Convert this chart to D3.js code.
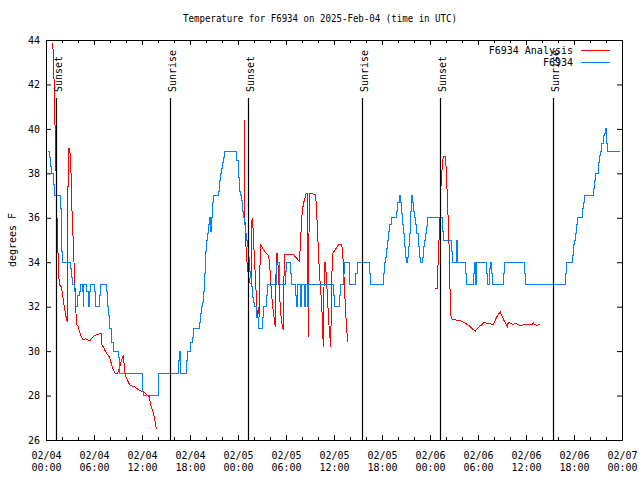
<!DOCTYPE html>
<html><head><meta charset="utf-8">
<script src="https://cdn.jsdelivr.net/npm/d3@7"></script>
<style>
body{margin:0;background:#fff}
svg{display:block}
</style>
</head><body>
<svg id="chart" width="640" height="480"></svg>
<script>
// ---------------- data ----------------
const titleText = "Temperature for F6934 on 2025-Feb-04 (time in UTC)";
const yLabelText = "degrees F";
const startUtc = Date.UTC(2025, 1, 4, 0, 0);      // 02/04 00:00 UTC
const spanHours = 72;
const xMajorHours = [0, 6, 12, 18, 24, 30, 36, 42, 48, 54, 60, 66, 72];
const xMinorHours = d3.range(0, 73, 2);
const yTickValues = [26, 28, 30, 32, 34, 36, 38, 40, 42, 44];
const seriesNames = ["F6934 Analysis", "F6934"];
const seriesColors = ["#ff0000", "#0080ff"];

// sunset / sunrise markers (hours after 02/04 00:00 UTC)
const sunEventHours = [1.29, 15.54, 25.29, 39.54, 49.29, 63.41];
const sunEventLabels = ["Sunset", "Sunrise", "Sunset", "Sunrise", "Sunset", "Sunrise"];

// station observations [hour, degF] (stepped)
const stationObs = [
[0.19,39.0],[0.38,38.7],[0.5,38.3],[0.63,38.0],[0.91,37.5],[1.04,37.0],[1.75,36.4],[1.88,35.2],[1.98,34.5],[2.04,34.0],
[3.06,33.7],[3.16,33.3],[3.29,33.0],[3.56,32.7],[3.69,32.0],[3.96,32.5],[4.13,32.7],[4.29,33.0],[4.54,32.7],[4.63,32.0],[4.71,33.0],
[5.04,32.7],[5.29,32.0],[5.38,32.7],[5.5,33.0],[6.04,32.7],[6.21,32.0],[6.66,32.5],[6.79,33.0],[7.54,32.7],[7.66,32.0],[7.79,31.6],[7.91,31.0],
[8.16,30.4],[8.41,30.0],[9.04,29.7],[9.19,29.0],[12.04,28.2],[12.16,28.0],[14.04,29.0],[16.54,29.6],[16.66,30.0],[16.79,29.0],
[17.54,29.6],[17.66,30.0],[18.06,30.4],[18.25,30.6],[18.41,31.0],[19.16,31.3],[19.29,31.7],[19.41,32.0],[19.54,32.2],[19.66,32.7],
[19.79,33.5],[19.91,34.5],[20.04,35.0],[20.16,35.3],[20.29,35.7],[20.44,36.0],[20.54,35.4],[20.63,36.0],[20.79,36.7],[20.91,37.0],
[21.54,37.2],[21.66,37.7],[21.79,38.0],[21.91,38.2],[22.04,38.5],[22.16,38.7],[22.29,39.0],[23.79,38.6],[24.0,37.8],[24.13,37.2],
[24.25,37.0],[24.38,36.8],[24.5,36.3],[24.63,36.0],[24.75,35.7],[24.88,35.3],[25.0,35.0],[25.13,34.7],[25.25,34.2],[25.38,33.6],
[25.5,33.3],[25.63,32.9],[25.75,32.4],[25.88,32.2],[26.0,32.0],[26.25,31.5],[26.5,31.0],[27.04,31.5],[27.16,32.0],[27.59,32.5],[27.71,33.0],
[28.75,34.0],[29.13,33.0],[29.88,33.6],[30.0,34.0],[30.5,33.5],[30.63,33.0],[31.13,32.5],[31.25,32.0],[31.38,33.0],
[31.75,32.0],[31.88,33.0],[32.25,32.0],[32.38,33.0],[32.63,32.0],[32.75,33.0],[35.88,32.5],[36.0,32.0],
[36.63,32.5],[36.75,33.0],[37.13,33.5],[37.25,34.0],[37.88,33.0],[38.63,33.5],[38.88,34.0],[40.46,33.5],[40.59,33.0],[42.16,33.5],[42.29,34.0],
[42.41,34.2],[42.54,34.6],[42.66,35.0],[42.79,35.4],[42.91,35.7],[43.16,36.0],[43.79,36.3],[43.91,36.7],[44.16,37.0],[44.29,36.7],
[44.41,36.2],[44.54,35.7],[44.66,35.3],[44.79,34.7],[44.91,34.2],[45.04,34.0],[45.16,34.2],[45.29,34.7],[45.41,35.3],[45.54,36.3],
[45.66,37.0],[45.79,36.7],[45.91,36.3],[46.04,36.0],[46.16,35.7],[46.29,35.3],[46.54,34.7],[46.66,34.2],[46.79,34.0],[47.04,34.2],
[47.16,34.7],[47.29,35.0],[47.41,35.3],[47.54,35.6],[47.66,36.0],[49.59,35.4],[49.71,35.0],[50.71,34.5],[50.84,34.0],[51.29,35.0],
[51.41,34.0],[52.46,33.5],[52.59,33.0],[53.41,33.5],[53.5,34.0],[53.66,33.0],[53.79,34.0],[55.0,33.5],[55.13,33.0],[55.38,33.7],
[55.5,34.0],[55.63,33.5],[55.75,33.0],[57.16,33.5],[57.29,34.0],[59.79,33.5],[59.91,33.0],[64.91,33.5],[65.04,34.0],[65.79,34.3],
[65.91,34.8],[66.04,35.0],[66.16,35.3],[66.29,35.7],[66.41,36.0],[67.04,36.4],[67.16,36.7],[67.29,37.0],[68.41,37.3],[68.54,37.7],
[68.66,38.0],[69.04,38.5],[69.16,38.8],[69.29,39.0],[69.41,39.35],[69.66,39.7],[69.79,39.8],[69.91,40.0],[70.04,39.35],[70.16,39.0],[71.75,39.0]
];

// analysis runs [hour, degF]
const analysisRun1 = [
[0.84,43.85],[0.96,42.95],[1.41,35.45],[1.54,34.0],[1.66,32.98],[1.88,32.9],[2.04,32.66],[2.16,32.3],[2.29,32.0],[2.41,31.7],
[2.54,31.5],[2.66,31.3],[2.7,35.0],[2.79,39.1],[2.96,39.1],[3.09,38.5],[3.25,36.3],[3.38,35.15],[3.5,34.0],[3.63,32.8],[3.75,31.7],
[3.84,31.2],[4.04,31.1],[4.16,30.9],[4.29,30.8],[4.41,30.65],[4.66,30.5],[4.91,30.55],[5.29,30.5],[5.54,30.5],[5.79,30.6],[6.04,30.7],
[6.41,30.75],[6.91,30.8],[6.93,30.3],[7.16,30.2],[7.41,30.0],[7.66,29.85],[7.91,29.75],[8.16,29.45],[8.41,29.15],[8.66,29.0],[8.91,29.0],
[9.16,29.2],[9.41,29.55],[9.66,29.8],[9.91,28.9],[10.04,28.8],[10.29,28.6],[10.54,28.45],[11.04,28.4],[11.41,28.3],[11.91,28.2],
[12.29,28.15],[12.66,28.0],[12.91,27.95],[13.04,27.65],[13.29,27.35],[13.54,27.05],[13.79,26.5]
];
const analysisRun2 = [
[24.79,40.4],[24.81,36.27],[24.91,35.6],[25.0,34.7],[25.13,34.0],[25.25,33.57],[25.5,33.05],[25.69,33.05],[25.75,35.9],[25.84,36.0],
[25.91,35.15],[26.0,34.55],[26.13,33.65],[26.25,32.75],[26.41,31.55],[26.54,32.0],[26.66,31.55],[26.79,34.8],[27.5,34.4],[27.84,34.3],
[27.91,34.0],[28.04,33.5],[28.16,32.75],[28.29,32.15],[28.41,31.8],[28.54,31.4],[28.66,31.1],[28.79,34.4],[28.91,34.4],[29.04,33.65],
[29.16,32.7],[29.29,32.0],[29.41,31.4],[29.66,30.95],[29.79,34.35],[30.91,34.35],[31.66,34.05],[31.79,34.7],[31.91,35.6],[32.04,36.35],
[32.29,36.8],[32.54,37.1],[32.66,37.1],[32.79,30.65],[32.91,37.1],[33.66,37.05],[33.79,36.65],[33.91,35.6],[34.04,34.65],[34.16,33.65],
[34.38,32.5],[34.54,31.55],[34.66,30.2],[34.79,34.0],[34.91,34.0],[35.04,33.35],[35.16,32.6],[35.29,31.7],[35.41,30.95],[35.59,30.2],
[35.71,33.2],[35.84,34.4],[36.21,34.6],[36.59,34.8],[36.96,34.8],[37.09,34.4],[37.25,33.35],[37.38,32.3],[37.5,31.5],[37.63,30.8],[37.75,30.4]
];
const analysisRun3 = [
[48.66,32.8],[48.91,32.8],[49.04,34.3],[49.29,36.35],[49.41,37.85],[49.54,38.3],[49.66,38.75],[49.91,38.75],[50.04,38.15],[50.16,36.95],
[50.29,35.75],[50.41,34.5],[50.48,33.25],[50.54,32.0],[50.66,31.45],[51.29,31.4],[51.91,31.35],[52.16,31.3],[52.66,31.2],[52.91,31.15],
[53.29,31.0],[53.66,30.9],[53.91,31.0],[54.16,31.1],[54.54,31.2],[54.79,31.3],[55.16,31.25],[55.91,31.2],[56.29,31.5],[56.54,31.65],
[56.79,31.75],[57.04,31.55],[57.29,31.35],[57.54,31.2],[57.66,31.1],[57.79,31.3],[58.04,31.25],[58.41,31.2],[58.66,31.25],[59.04,31.2],
[59.29,31.15],[59.54,31.15],[59.79,31.2],[60.29,31.2],[60.79,31.2],[60.91,31.28],[61.04,31.2],[61.41,31.15],[61.66,31.2],[61.79,31.15]
];

// ---------------- drawing ----------------
const FONT = "'DejaVu Sans Mono','Liberation Mono',monospace";
const margin = {left: 46, right: 18, top: 40, bottom: 40};
const W = 640, H = 480;
const svg = d3.select("#chart");
svg.append("rect").attr("width", W).attr("height", H).attr("fill", "#fff");

const hourDate = h => new Date(startUtc + h * 3600e3);
const x = d3.scaleUtc().domain([hourDate(0), hourDate(spanHours)]).range([margin.left, W - margin.right]);
const y = d3.scaleLinear().domain([26, 44]).range([H - margin.bottom, margin.top]);
const [x0, x1] = x.range(), [yb, yt] = y.range();

function styleAxis(g) {
  g.attr("font-family", FONT).attr("font-size", 10);
  g.select(".domain").remove();
  g.selectAll("line").attr("stroke", "#000");
  g.selectAll("text").attr("fill", "#000");
}

// minor x ticks
svg.append("g").attr("transform", `translate(0,${yb})`)
  .call(d3.axisBottom(x).tickValues(xMinorHours.map(hourDate)).tickSizeInner(-3).tickSizeOuter(0).tickFormat(() => ""))
  .call(styleAxis);
svg.append("g").attr("transform", `translate(0,${yt})`)
  .call(d3.axisTop(x).tickValues(xMinorHours.map(hourDate)).tickSizeInner(-3).tickSizeOuter(0).tickFormat(() => ""))
  .call(styleAxis);
// major x ticks
const fmtDay = d3.utcFormat("%m/%d"), fmtTime = d3.utcFormat("%H:%M");
const gx = svg.append("g").attr("transform", `translate(0,${yb})`)
  .call(d3.axisBottom(x).tickValues(xMajorHours.map(hourDate)).tickSizeInner(-5).tickSizeOuter(0).tickPadding(0))
  .call(styleAxis);
gx.selectAll(".tick text").each(function(d) {
  const t = d3.select(this).text(null).attr("dy", null).attr("y", null);
  t.append("tspan").attr("x", 0).attr("y", 19).text(fmtDay(d));
  t.append("tspan").attr("x", 0).attr("y", 31).text(fmtTime(d));
});
svg.append("g").attr("transform", `translate(0,${yt})`)
  .call(d3.axisTop(x).tickValues(xMajorHours.map(hourDate)).tickSizeInner(-5).tickSizeOuter(0).tickFormat(() => ""))
  .call(styleAxis);
// y ticks
svg.append("g").attr("transform", `translate(${x0},0)`)
  .call(d3.axisLeft(y).tickValues(yTickValues).tickSizeInner(-5).tickSizeOuter(0).tickPadding(6).tickFormat(d3.format("d")))
  .call(styleAxis);
svg.append("g").attr("transform", `translate(${x1},0)`)
  .call(d3.axisRight(y).tickValues(yTickValues).tickSizeInner(-5).tickSizeOuter(0).tickFormat(() => ""))
  .call(styleAxis);

// frame
svg.append("rect").attr("x", x0 + 0.5).attr("y", yt + 0.5)
  .attr("width", x1 - x0).attr("height", yb - yt)
  .attr("fill", "none").attr("stroke", "#000").attr("stroke-width", 1);

// series
const redLine = d3.line().x(d => x(hourDate(d[0]))).y(d => y(d[1]));
[analysisRun1, analysisRun2, analysisRun3].forEach(run => {
  svg.append("path").datum(run).attr("d", redLine)
    .attr("fill", "none").attr("stroke", seriesColors[0]).attr("stroke-width", 1)
    .attr("shape-rendering", "crispEdges");
});
const blueLine = d3.line().curve(d3.curveStepAfter).x(d => x(hourDate(d[0]))).y(d => y(d[1]));
svg.append("path").datum(stationObs).attr("d", blueLine)
  .attr("fill", "none").attr("stroke", seriesColors[1]).attr("stroke-width", 1)
  .attr("shape-rendering", "crispEdges");

// sun markers
const markerTop = yb - (yb - yt) * 0.855;
const sun = svg.append("g");
sunEventHours.forEach((h, i) => {
  const sx = Math.round(x(hourDate(h))) + 0.5;
  sun.append("line").attr("x1", sx).attr("x2", sx).attr("y1", markerTop).attr("y2", yb)
    .attr("stroke", "#000").attr("stroke-width", 1.2);
  sun.append("text").attr("transform", `translate(${sx + 5},${markerTop - 6}) rotate(-90)`)
    .attr("font-family", FONT).attr("font-size", 10).attr("fill", "#000")
    .attr("text-anchor", "start").text(sunEventLabels[i]);
});

// title & y label
svg.append("text").attr("x", W / 2).attr("y", 22).attr("text-anchor", "middle")
  .attr("font-family", FONT).attr("font-size", 10).attr("fill", "#000")
  .attr("textLength", 274).attr("lengthAdjust", "spacingAndGlyphs").text(titleText);
svg.append("text").attr("transform", `translate(16,${(yt + yb) / 2}) rotate(-90)`)
  .attr("text-anchor", "middle").attr("font-family", FONT).attr("font-size", 10)
  .attr("fill", "#000").text(yLabelText);

// legend
const legend = svg.append("g");
seriesNames.forEach((name, i) => {
  const ly = 49.5 + i * 12.5;
  legend.append("text").attr("x", 573).attr("y", ly + 4).attr("text-anchor", "end")
    .attr("font-family", FONT).attr("font-size", 10).attr("fill", "#000").text(name);
  legend.append("line").attr("x1", 581).attr("x2", 610).attr("y1", Math.round(ly) + 0.5).attr("y2", Math.round(ly) + 0.5)
    .attr("stroke", seriesColors[i]).attr("stroke-width", 1);
});
</script>
</body></html>
